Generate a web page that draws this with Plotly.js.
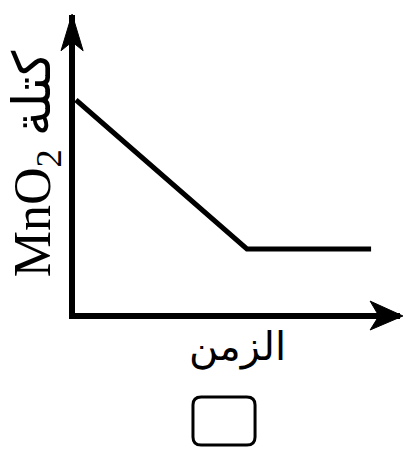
<!DOCTYPE html>
<html>
<head>
<meta charset="utf-8">
<script src="https://cdn.plot.ly/plotly-3.0.1.min.js"></script>
<style>html,body{margin:0;padding:0;background:#fff;}#chart{width:405px;height:450px;}</style>
</head>
<body>
<div id="chart"></div>
<script>
// Data (arbitrary units)
const timeValues = [0.03, 5.29, 9.11];
const massValues = [7.15, 2.15, 2.15];
const xTitle = "الزمن";
const yTitle = "MnO<sub>2</sub> كتلة";

const trace = {
  x: timeValues,
  y: massValues,
  type: "scatter",
  mode: "lines",
  line: {color: "#000", width: 5},
  hoverinfo: "skip",
  showlegend: false
};

const axisBase = {
  showgrid: false,
  zeroline: false,
  showticklabels: false,
  ticks: "",
  showline: true,
  linecolor: "#000",
  linewidth: 6,
  mirror: false,
  fixedrange: true
};

const layout = {
  width: 405,
  height: 450,
  margin: {l: 75, r: 5, t: 15, b: 137},
  paper_bgcolor: "#fff",
  plot_bgcolor: "#fff",
  xaxis: Object.assign({}, axisBase, {
    range: [0, 10],
    title: {text: xTitle, font: {family: "DejaVu Sans", size: 40, color: "#000"}, standoff: 16}
  }),
  yaxis: Object.assign({}, axisBase, {
    range: [0, 10],
    title: {text: yTitle, font: {family: "Liberation Serif, DejaVu Sans", size: 52, color: "#000"}, standoff: 4}
  }),
  shapes: [
    // x-axis arrowhead
    {type: "path", xref: "paper", yref: "paper",
     path: "M 1.009 -0.010 L 0.908 0.040 L 0.935 -0.010 L 0.908 -0.057 Z",
     line: {color: "#000", width: 1}, fillcolor: "#000"},
    // y-axis arrowhead
    {type: "path", xref: "paper", yref: "paper",
     path: "M -0.009 1.003 L -0.043 0.880 L -0.009 0.910 L 0.025 0.880 Z",
     line: {color: "#000", width: 1}, fillcolor: "#000"},
    // rounded answer box
    {type: "path", xref: "paper", yref: "paper",
     path: "M 0.388 -0.282 L 0.529 -0.282 Q 0.554 -0.282 0.554 -0.309 L 0.554 -0.416 Q 0.554 -0.443 0.529 -0.443 L 0.388 -0.443 Q 0.363 -0.443 0.363 -0.416 L 0.363 -0.309 Q 0.363 -0.282 0.388 -0.282 Z",
     line: {color: "#000", width: 3}, fillcolor: "rgba(0,0,0,0)"}
  ]
};

Plotly.newPlot("chart", [trace], layout, {displayModeBar: false, staticPlot: true});
</script>
</body>
</html>
